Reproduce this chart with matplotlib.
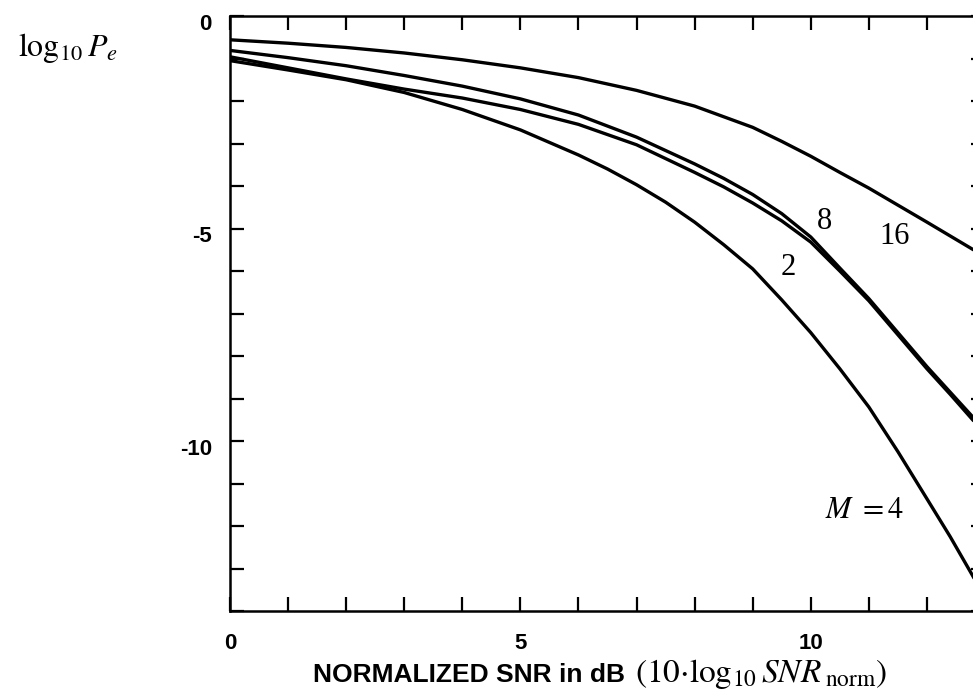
import matplotlib
matplotlib.use("Agg")
import matplotlib.pyplot as plt
from matplotlib.ticker import FixedLocator, FuncFormatter
import matplotlib.transforms as mtransforms

plt.rcParams['mathtext.fontset'] = 'stix'
plt.rcParams['axes.unicode_minus'] = False
plt.rcParams['font.family'] = ['Liberation Sans', 'DejaVu Sans']

# Data (x: normalized SNR in dB, y: log10 Pe)
snr_m16 = [0, 1, 2, 3, 4, 5, 6, 7, 8, 9, 9.5, 10, 10.5, 11, 11.5, 12, 12.8]
pe_m16 = [-0.56, -0.64, -0.74, -0.87, -1.03, -1.22, -1.45, -1.75, -2.12, -2.62, -2.95, -3.30, -3.68,
          -4.05, -4.45, -4.85, -5.50]

snr_m8 = [0, 1, 2, 3, 4, 5, 6, 7, 8, 8.5, 9, 9.5, 10, 10.5, 11, 11.5, 12, 12.4, 12.8]
pe_m8 = [-0.81, -0.98, -1.17, -1.40, -1.65, -1.95, -2.33, -2.85, -3.48, -3.82, -4.20, -4.65, -5.20,
         -5.93, -6.65, -7.45, -8.25, -8.85, -9.45]

snr_m2 = [0, 1, 2, 3, 4, 5, 6, 7, 8, 8.5, 9, 9.5, 10, 10.5, 11, 11.5, 12, 12.4, 12.8]
pe_m2 = [-0.96, -1.22, -1.48, -1.72, -1.93, -2.20, -2.55, -3.03, -3.68, -4.02, -4.40, -4.82, -5.32,
         -6.00, -6.70, -7.50, -8.30, -8.90, -9.52]

snr_m4 = [0, 1, 2, 3, 4, 5, 6, 6.5, 7, 7.5, 8, 8.5, 9, 9.5, 10, 10.5, 11, 11.5, 12, 12.4, 12.8, 13.0]
pe_m4 = [-1.05, -1.27, -1.50, -1.80, -2.20, -2.68, -3.27, -3.60, -3.97, -4.38, -4.85, -5.38, -5.95,
         -6.68, -7.45, -8.30, -9.20, -10.25, -11.36, -12.25, -13.20, -13.70]

curve_labels = ["8", "16", "2", r"$M\ = 4$"]
label_x = [10.24, 11.45, 9.62, 10.93]
label_y = [-4.84, -5.19, -5.92, -11.64]

x_ticks = list(range(0, 14))
y_ticks = list(range(-14, 1))

fig = plt.figure(figsize=(9.73, 6.98), dpi=100)
ax = fig.add_axes([230/973, (698-611)/698, 755/973, (611-16)/698])

for xs, ys in ((snr_m16, pe_m16), (snr_m8, pe_m8), (snr_m2, pe_m2), (snr_m4, pe_m4)):
    ax.plot(xs, ys, color='black', lw=2.4, solid_capstyle='round', solid_joinstyle='round')

ax.set_xlim(0, 13)
ax.set_ylim(-14, 0)

ax.xaxis.set_major_locator(FixedLocator(x_ticks))
ax.yaxis.set_major_locator(FixedLocator(y_ticks))
fmt = FuncFormatter(lambda v, p: f"{int(round(v))}" if round(v) % 5 == 0 else "")
ax.xaxis.set_major_formatter(fmt)
ax.yaxis.set_major_formatter(fmt)

ax.tick_params(axis='both', which='major', direction='in', length=10, width=1.6,
               top=True, right=True, labelsize=16)
ax.tick_params(axis='x', pad=16)
ax.tick_params(axis='y', pad=13)
offset = mtransforms.ScaledTranslation(0, -6/100, fig.dpi_scale_trans)
for tick in ax.xaxis.get_major_ticks():
    tick.label1.set_fontweight('bold')
for tick in ax.yaxis.get_major_ticks():
    tick.label1.set_fontweight('bold')
    tick.label1.set_transform(tick.label1.get_transform() + offset)

for s in ax.spines.values():
    s.set_linewidth(1.8)

for t, x, y in zip(curve_labels, label_x, label_y):
    ax.text(x, y, t, ha='center', va='center', fontsize=22, family='Liberation Serif')

fig.text(18/973, 1 - 48/698, r"$\log_{10}P_e$", fontsize=23, ha='left', va='center')

fig.text(313/973, 1 - 682/698, "NORMALIZED SNR in dB", fontsize=19, fontweight='bold',
         ha='left', va='baseline')
fig.text(635/973, 1 - 682/698, r"$(10{\cdot}\log_{10}SNR_{\;\mathrm{norm}})$", fontsize=24,
         ha='left', va='baseline')

fig.savefig("out.png", dpi=100)
